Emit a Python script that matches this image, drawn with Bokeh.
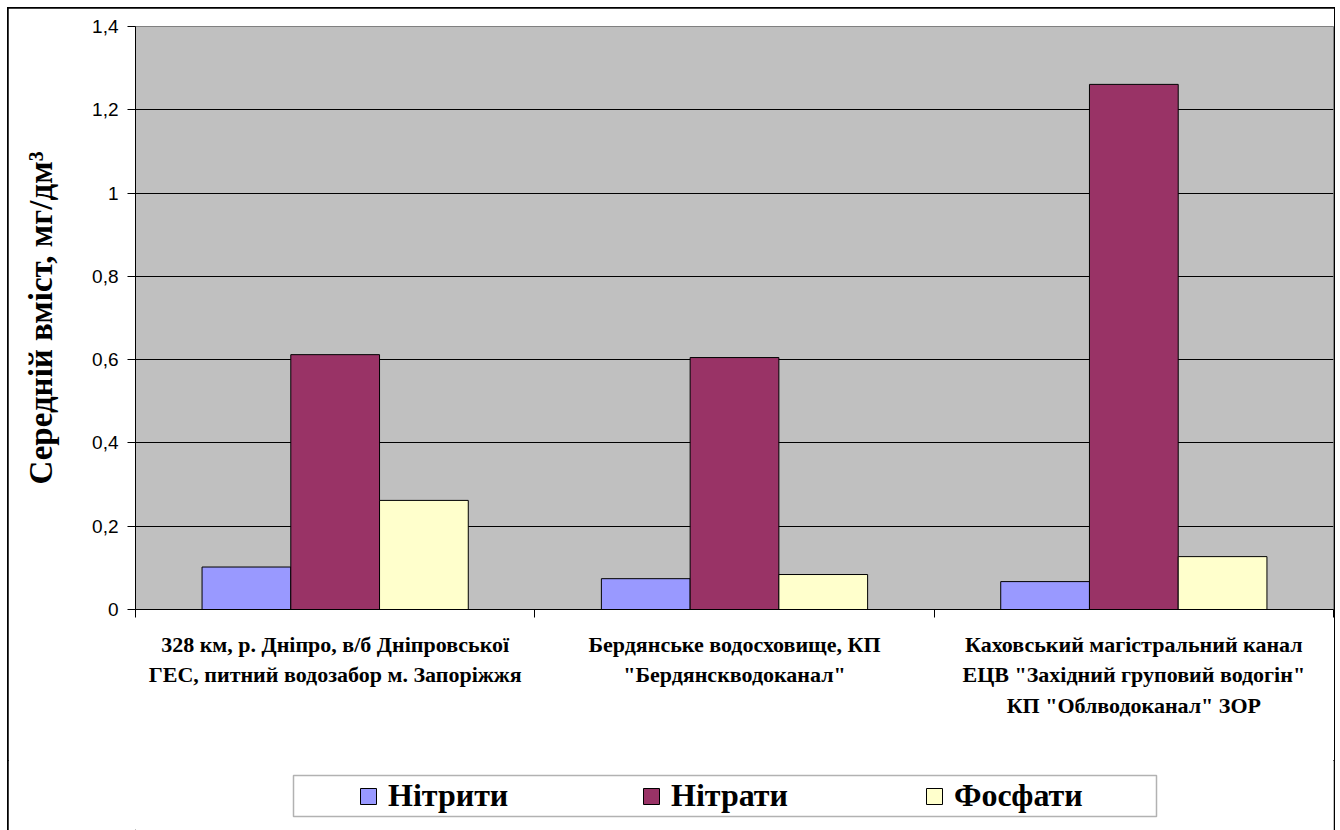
from bokeh.plotting import figure
from bokeh.layouts import column
from bokeh.models import (Range1d, FixedTicker, Legend, LegendItem, ColumnDataSource, BoxAnnotation)
from bokeh.transform import dodge
from bokeh.embed import file_html
from bokeh.resources import INLINE

# ---------------- data ----------------
category_labels = [
    "328 км, р. Дніпро, в/б Дніпровської\nГЕС, питний водозабор м. Запоріжжя",
    "Бердянське водосховище, КП\n\"Бердянскводоканал\"",
    "Каховський магістральний канал\nЕЦВ \"Західний груповий водогін\"\nКП \"Облводоканал\" ЗОР",
]
series_names = ["Нітрити", "Нітрати", "Фосфати"]
nitrites = [0.102, 0.074, 0.067]
nitrates = [0.612, 0.605, 1.261]
phosphates = [0.262, 0.084, 0.127]
series_colors = ["#9999FF", "#993366", "#FFFFCC"]
y_ticks = [0, 0.2, 0.4, 0.6, 0.8, 1.0, 1.2, 1.4]
y_tick_labels = ["0", "0,2", "0,4", "0,6", "0,8", "1", "1,2", "1,4"]
y_title = "Середній вміст, мг/дм³"

# ---------------- layout ----------------
W = 1326
H_MAIN, H_LEG = 752, 70
n_cat = len(category_labels)
cat_pos = [i + 0.5 for i in range(n_cat)]      # category centres on the x scale
cat_bounds = [i for i in range(n_cat + 1)]     # category boundaries (tick marks)

source = ColumnDataSource(data=dict(x=cat_pos, s0=nitrites, s1=nitrates, s2=phosphates))
series_cols = ["s0", "s1", "s2"]

p = figure(x_range=Range1d(0, n_cat), y_range=Range1d(0, 1.4), width=W, height=H_MAIN,
           output_backend="svg", toolbar_location=None,
           min_border_left=127, min_border_top=18, min_border_right=1, min_border_bottom=151)
p.background_fill_color = "#C0C0C0"
p.border_fill_color = "white"
p.outline_line_color = "#808080"
p.outline_line_width = 1

# y axis
yax = p.yaxis[0]
yax.ticker = FixedTicker(ticks=y_ticks)
yax.major_label_overrides = {t: l for t, l in zip(y_ticks, y_tick_labels)}
yax.major_label_text_font = "Liberation Sans"
yax.major_label_text_font_size = "19px"
yax.major_label_text_color = "black"
yax.major_label_standoff = 9
yax.major_tick_out = 8
yax.major_tick_in = 0
yax.minor_tick_line_color = None
yax.axis_line_color = "black"
yax.major_tick_line_color = "black"
yax.axis_label = y_title
yax.axis_label_text_font = "Liberation Serif"
yax.axis_label_text_font_style = "bold"
yax.axis_label_text_font_size = "33px"
yax.axis_label_text_color = "black"
yax.axis_label_standoff = 30
p.ygrid.grid_line_color = "black"
p.ygrid.grid_line_width = 1
p.ygrid.ticker = FixedTicker(ticks=y_ticks)
p.xgrid.visible = False

# x axis: labels at category centres, tick marks at category boundaries
xax = p.xaxis[0]
xax.ticker = FixedTicker(ticks=cat_pos, minor_ticks=cat_bounds)
xax.major_label_overrides = {t: l for t, l in zip(cat_pos, category_labels)}
xax.major_label_text_font = "Liberation Serif"
xax.major_label_text_font_style = "bold"
xax.major_label_text_font_size = "22px"
xax.major_label_text_line_height = 1.22
xax.major_label_text_color = "black"
xax.major_label_standoff = 14
xax.major_tick_line_color = None
xax.major_tick_out = 8
xax.major_tick_in = 0
xax.minor_tick_out = 8
xax.minor_tick_in = 0
xax.minor_tick_line_color = "black"
xax.axis_line_color = "black"

# bars
bw = 1 / 4.5
for i, (col, color) in enumerate(zip(series_cols, series_colors)):
    p.vbar(x=dodge("x", (i - 1) * bw), top=col, width=bw,
           source=source, fill_color=color, line_color="black", line_width=1)

# ---------------- legend strip (frame aligned with the main plot frame) ----------------
pl = figure(x_range=Range1d(100, 101), y_range=Range1d(100, 101), width=W, height=H_LEG,
            output_backend="svg", toolbar_location=None,
            x_axis_location=None, y_axis_location=None,
            min_border_left=0, min_border_right=0, min_border_top=0, min_border_bottom=0)
pl.grid.visible = False
pl.outline_line_color = None
pl.background_fill_color = "white"
pl.border_fill_color = "white"

pl.add_layout(BoxAnnotation(left=158, right=1021, bottom=14, top=55,
                            left_units="screen", right_units="screen",
                            bottom_units="screen", top_units="screen",
                            fill_color="white", fill_alpha=1,
                            line_color="black", line_width=1.5))

# key renderers (same series, lying outside this strip's view; they only feed the legend)
keys = []
for col, color in zip(series_cols, series_colors):
    keys.append(pl.vbar(x="x", top=col, width=bw, source=source,
                        fill_color=color, line_color="black", line_width=1))

legend = Legend(items=[LegendItem(label=n, renderers=[r]) for n, r in zip(series_names, keys)],
                orientation="horizontal", location=(219, 12),
                glyph_width=20, glyph_height=20, label_standoff=10, label_width=140, spacing=113,
                padding=4, margin=0, border_line_alpha=0, background_fill_alpha=0,
                label_text_font="Liberation Serif", label_text_font_style="bold",
                label_text_font_size="32px", label_text_color="black")
pl.add_layout(legend, "center")

layout = column(p, pl, spacing=0)
layout.margin = (8, 0, 0, 8)
layout.styles = {"outline": "2px solid black", "outline-offset": "-1px"}

open("out.html", "w").write(file_html(layout, INLINE))
